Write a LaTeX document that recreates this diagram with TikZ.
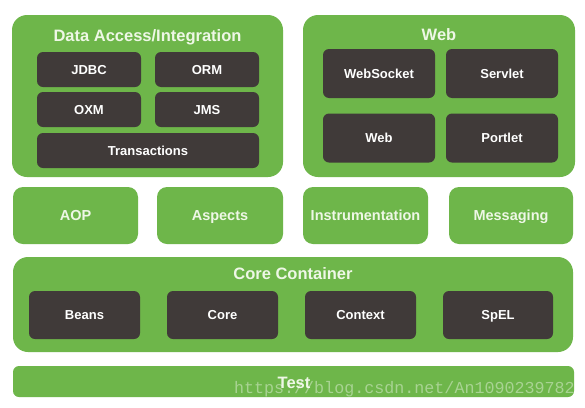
\documentclass[tikz,border=0pt]{standalone}
\usepackage{fontspec}
\setmainfont{Liberation Sans}
\newfontfamily\wmfont{Liberation Mono}
\definecolor{sgreen}{RGB}{110,182,74}
\definecolor{sdark}{RGB}{64,58,57}
\definecolor{stitle}{RGB}{238,247,230}
\begin{document}
\begin{tikzpicture}[x=1pt,y=-1pt,
  bigbox/.style={fill=sgreen,draw=none,rounded corners=15pt,inner sep=0pt},
  greenbox/.style={fill=sgreen,draw=none,rounded corners=10pt,inner sep=0pt,
    text=stitle,font=\fontsize{14.5}{16}\selectfont\bfseries,text height=10.4pt,text depth=0pt},
  darkbox/.style={fill=sdark,draw=none,rounded corners=6pt,inner sep=0pt,
    text=white,font=\fontsize{13}{15}\selectfont\bfseries,text height=9.3pt,text depth=0pt},
  titletext/.style={text=stitle,inner sep=0pt,font=\fontsize{16.5}{18}\selectfont\bfseries,
    text height=11.8pt,text depth=0pt},
  wm/.style={text=white,opacity=0.4,inner sep=0pt,font=\wmfont\fontsize{16.7}{18}\selectfont}]
\useasboundingbox[fill=white] (0,0) rectangle (585,407);
% Data Access / Integration
\node[bigbox,minimum width=271pt,minimum height=162pt] (da) at (147.5,96) {};
\node[titletext] (datitle) at (147.5,36) {Data Access/Integration};
\node[darkbox,minimum width=104pt,minimum height=35pt] (jdbc) at (89,69.5) {JDBC};
\node[darkbox,minimum width=104pt,minimum height=35pt] (orm) at (207,69.5) {ORM};
\node[darkbox,minimum width=104pt,minimum height=35pt] (oxm) at (89,109.5) {OXM};
\node[darkbox,minimum width=104pt,minimum height=35pt] (jms) at (207,109.5) {JMS};
\node[darkbox,minimum width=222pt,minimum height=35pt] (tx) at (148,150.5) {Transactions};
% Web
\node[bigbox,minimum width=272pt,minimum height=162pt] (webbox) at (439,96) {};
\node[titletext] (webtitle) at (439,35) {Web};
\node[darkbox,minimum width=112pt,minimum height=49pt] (ws) at (379,73.5) {WebSocket};
\node[darkbox,minimum width=112pt,minimum height=49pt] (servlet) at (502,73.5) {Servlet};
\node[darkbox,minimum width=112pt,minimum height=49pt] (web) at (379,138) {Web};
\node[darkbox,minimum width=112pt,minimum height=49pt] (portlet) at (502,138) {Portlet};
% middle row
\node[greenbox,minimum width=125pt,minimum height=57pt] (aop) at (75.5,215.5) {AOP};
\node[greenbox,minimum width=126pt,minimum height=57pt] (aspects) at (220,215.5) {Aspects};
\node[greenbox,minimum width=125pt,minimum height=57pt] (instr) at (365.5,215.5) {Instrumentation};
\node[greenbox,minimum width=124pt,minimum height=57pt] (msg) at (511,215.5) {Messaging};
% Core container
\node[bigbox,minimum width=560pt,minimum height=95pt] (cc) at (293,304.5) {};
\node[titletext] (cctitle) at (293,273.5) {Core Container};
\node[darkbox,minimum width=111pt,minimum height=48pt] (beans) at (84.5,315) {Beans};
\node[darkbox,minimum width=111pt,minimum height=48pt] (core) at (222.5,315) {Core};
\node[darkbox,minimum width=111pt,minimum height=48pt] (context) at (360.5,315) {Context};
\node[darkbox,minimum width=110pt,minimum height=48pt] (spel) at (498,315) {SpEL};
% Test
\node[bigbox,rounded corners=6pt,minimum width=561pt,minimum height=31pt] (test) at (293.5,381.5) {};
\node[titletext] (testtitle) at (294,382.5) {Test};
% watermark
\node[wm,anchor=base east] (wmark) at (575,393) {https://blog.csdn.net/An1090239782};
\end{tikzpicture}
\end{document}
